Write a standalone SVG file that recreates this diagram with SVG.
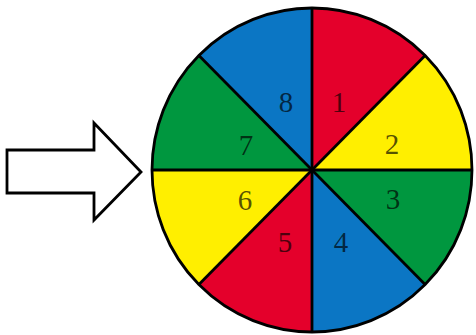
<svg xmlns="http://www.w3.org/2000/svg" width="476" height="335" viewBox="0 0 476 335">
<style>
.s{stroke:none}
.red{fill:#E4002B}
.blue{fill:#0B76C4}
.green{fill:#00973F}
.yellow{fill:#FFEF00}
.lbl{font-family:"Liberation Serif","DejaVu Serif",serif;font-size:29px;text-anchor:middle;fill:#000;fill-opacity:0.68}
.ln{stroke:#000;stroke-width:2.8;fill:none}
</style>
<rect width="476" height="335" fill="#fff"/>
<g id="sector1"><path class="s red" d="M312,170 L312,8 A160,162 0 0 1 425.1,55.4 Z"/><text class="lbl" x="339" y="112">1</text></g>
<g id="sector2"><path class="s yellow" d="M312,170 L425.1,55.4 A160,162 0 0 1 472,170 Z"/><text class="lbl" x="392" y="154">2</text></g>
<g id="sector3"><path class="s green" d="M312,170 L472,170 A160,162 0 0 1 425.1,284.6 Z"/><text class="lbl" x="393" y="209">3</text></g>
<g id="sector4"><path class="s blue" d="M312,170 L425.1,284.6 A160,162 0 0 1 312,332 Z"/><text class="lbl" x="341" y="252">4</text></g>
<g id="sector5"><path class="s red" d="M312,170 L312,332 A160,162 0 0 1 198.9,284.6 Z"/><text class="lbl" x="285" y="252">5</text></g>
<g id="sector6"><path class="s yellow" d="M312,170 L198.9,284.6 A160,162 0 0 1 152,170 Z"/><text class="lbl" x="245" y="210">6</text></g>
<g id="sector7"><path class="s green" d="M312,170 L152,170 A160,162 0 0 1 198.9,55.4 Z"/><text class="lbl" x="246" y="155">7</text></g>
<g id="sector8"><path class="s blue" d="M312,170 L198.9,55.4 A160,162 0 0 1 312,8 Z"/><text class="lbl" x="286" y="112">8</text></g>
<g id="connectors">
<line class="ln" x1="312" y1="8" x2="312" y2="332"/>
<line class="ln" x1="152" y1="170" x2="472" y2="170"/>
<line class="ln" x1="198.9" y1="55.4" x2="425.1" y2="284.6"/>
<line class="ln" x1="425.1" y1="55.4" x2="198.9" y2="284.6"/>
<ellipse class="ln" cx="312" cy="170" rx="160" ry="162"/>
</g>
<g id="arrow"><polygon points="7,150 94,150 94,123 141,172 94,220 94,193 7,193" fill="#fff" stroke="#000" stroke-width="2.8" stroke-linejoin="miter"/></g>
</svg>
